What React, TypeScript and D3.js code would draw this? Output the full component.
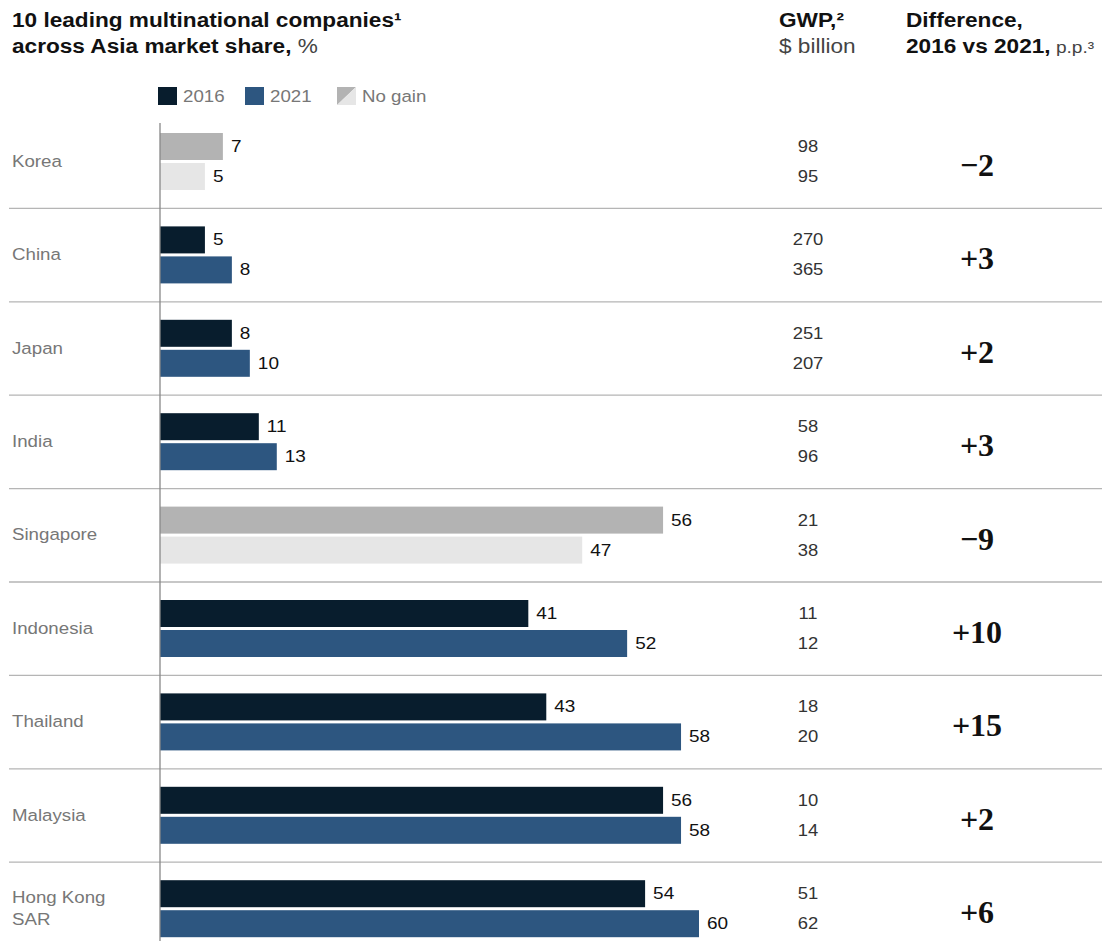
import React from "react";
import * as d3 from "d3";

const countries = ["Korea", "China", "Japan", "India", "Singapore", "Indonesia", "Thailand", "Malaysia", "Hong Kong SAR"];
const share2016 = [7, 5, 8, 11, 56, 41, 43, 56, 54];
const share2021 = [5, 8, 10, 13, 47, 52, 58, 58, 60];
const gwp2016 = [98, 270, 251, 58, 21, 11, 18, 10, 51];
const gwp2021 = [95, 365, 207, 96, 38, 12, 20, 14, 62];
const diffLabels = ["\u22122", "+3", "+2", "+3", "\u22129", "+10", "+15", "+2", "+6"];
const noGain = [true, false, false, false, true, false, false, false, false];
const years = ["2016", "2021"];

const W = 1117;
const H = 941;
const SANS = "'Liberation Sans', Arial, sans-serif";
const SERIF = "'Liberation Serif', 'Times New Roman', serif";
const C2016 = "#081d2d";
const C2021 = "#2d5680";
const CNG1 = "#b3b3b3";
const CNG2 = "#e6e6e6";

function ST(props: any) {
  const { x, y, sx = 1.16, children, ...rest } = props;
  return (
    <text transform={`translate(${x},${y}) scale(${sx},1)`} fontFamily={SANS} {...rest}>
      {children}
    </text>
  );
}

export default function App() {
  const rowH = 93.4;
  const y = d3.scaleBand<string>().domain(countries).range([115, 115 + rowH * countries.length]).paddingInner(0);
  const yIn = d3.scaleBand<string>().domain(years).range([18, 75]).paddingInner(0.1);
  const x = d3.scaleLinear().domain([0, 60]).range([160, 699]);

  const rows = countries.map((c, i) => ({
    c,
    i,
    vals: [share2016[i], share2021[i]],
    gwp: [gwp2016[i], gwp2021[i]],
    diff: diffLabels[i],
    ng: noGain[i],
  }));

  return (
    <svg width={W} height={H} style={{ position: "absolute", left: 0, top: 0, background: "#fff" }}>
      {/* Header */}
      <ST x={12} y={27} fontSize={19.5} fontWeight="bold" fill="#111">
        10 leading multinational companies¹
      </ST>
      <ST x={12} y={53} fontSize={19.5} fill="#111">
        <tspan fontWeight="bold">across Asia market share,</tspan>
        <tspan fill="#444"> %</tspan>
      </ST>
      <ST x={779} y={27} fontSize={19.5} fontWeight="bold" fill="#111">
        GWP,²
      </ST>
      <ST x={779} y={53} fontSize={19.5} fill="#444">
        $ billion
      </ST>
      <ST x={906} y={27} fontSize={19.5} fontWeight="bold" fill="#111">
        Difference,
      </ST>
      <ST x={906} y={53} fontSize={19.5} fill="#111">
        <tspan fontWeight="bold">2016 vs 2021,</tspan>
        <tspan fill="#444" fontSize={16.5}> p.p.³</tspan>
      </ST>

      {/* Legend */}
      <rect x={158} y={87} width={19} height={18} fill={C2016} />
      <ST x={183} y={102} sx={1.1} fontSize={17} fill="#777">2016</ST>
      <rect x={245} y={87} width={19} height={18} fill={C2021} />
      <ST x={270} y={102} sx={1.1} fontSize={17} fill="#777">2021</ST>
      <polygon points="337,87 356,87 337,105" fill={CNG1} />
      <polygon points="356,87 356,105 337,105" fill={CNG2} />
      <ST x={362} y={102} sx={1.1} fontSize={17} fill="#777">No gain</ST>

      {/* Separators */}
      {rows.slice(1).map((r) => (
        <line key={"sep" + r.c} x1={9} x2={1102} y1={y(r.c)!} y2={y(r.c)!} stroke="#b5b5b5" strokeWidth={1.3} />
      ))}

      {/* Rows */}
      {rows.map((r) => {
        const top = y(r.c)!;
        const center = top + 46;
        const lines = r.c === "Hong Kong SAR" ? ["Hong Kong", "SAR"] : [r.c];
        return (
          <g key={r.c}>
            {lines.map((l, k) => (
              <ST
                key={l}
                x={12}
                y={center + (k - (lines.length - 1) / 2) * 22}
                sx={1.1}
                dominantBaseline="central"
                fontSize={17}
                fill="#777"
              >
                {l}
              </ST>
            ))}
            {years.map((yr, k) => {
              const by = top + yIn(yr)!;
              const bh = yIn.bandwidth();
              const fill = r.ng ? (k === 0 ? CNG1 : CNG2) : k === 0 ? C2016 : C2021;
              return (
                <g key={yr}>
                  <rect x={x(0)} y={by} width={x(r.vals[k]) - x(0)} height={bh} fill={fill} />
                  <ST
                    x={x(r.vals[k]) + 8}
                    y={by + bh / 2}
                    sx={1.15}
                    dominantBaseline="central"
                    fontSize={16.5}
                    fill="#111"
                  >
                    {r.vals[k]}
                  </ST>
                  <ST
                    x={808}
                    y={by + bh / 2}
                    sx={1.15}
                    dominantBaseline="central"
                    textAnchor="middle"
                    fontSize={16}
                    fill="#333"
                  >
                    {r.gwp[k]}
                  </ST>
                </g>
              );
            })}
            <text
              x={977}
              y={center + 4}
              dominantBaseline="central"
              textAnchor="middle"
              fontFamily={SERIF}
              fontSize={32}
              fontWeight="bold"
              fill="#111"
            >
              {r.diff}
            </text>
          </g>
        );
      })}

      {/* Axis line */}
      <line x1={x(0)} x2={x(0)} y1={123} y2={941} stroke="#888" strokeWidth={1.3} />
    </svg>
  );
}
